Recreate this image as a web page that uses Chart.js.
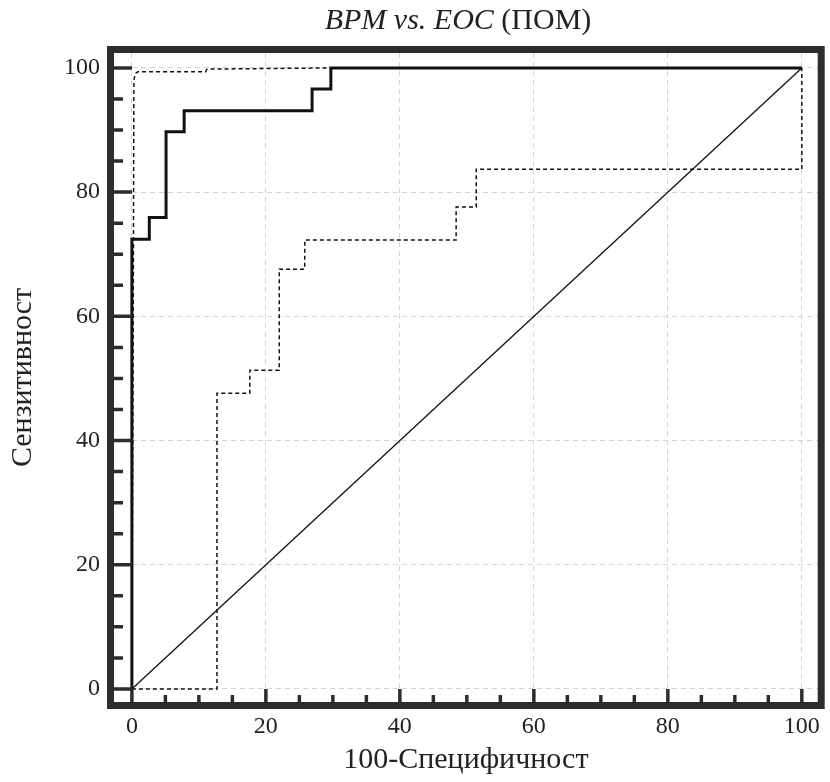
<!DOCTYPE html>
<html lang="bg">
<head>
    <meta charset="UTF-8">
    <title>BPM vs. EOC (ПОМ)</title>
    <script src="https://cdn.jsdelivr.net/npm/chart.js"></script>
    <style>
        body {
            margin: 0;
            background: #ffffff;
        }

        .wrap {
            position: relative;
            width: 830px;
            height: 782px;
        }

        .title {
            position: absolute;
            left: 97px;
            width: 722px;
            top: 2px;
            text-align: center;
            font-family: 'Liberation Serif', serif;
            font-size: 30px;
            color: #222;
        }

        canvas {
            position: absolute;
            left: 0;
            top: 0;
        }
    </style>
</head>
<body>

<div class="wrap">
    <canvas id="roc" width="830" height="782"></canvas>
    <div class="title"><i>BPM vs. EOC</i> (ПОМ)</div>
</div>

<script>
    // tick values
    const xTicks = [0, 20, 40, 60, 80, 100];
    const yTicks = [0, 20, 40, 60, 80, 100];
    const minorStep = 5;

    // ROC curve (100-specificity, sensitivity)
    const rocX = [0, 0, 2.6, 5.1, 7.8, 26.9, 29.7, 100];
    const rocY = [0, 72.4, 75.9, 89.7, 93.1, 96.6, 100, 100];

    // confidence bounds
    const upperX = [0, 0.2, 0.3, 0.5, 0.9, 11.0, 11.2, 29.7, 100];
    const upperY = [0, 60, 98.0, 99.1, 99.4, 99.4, 99.8, 100, 100];
    const lowerX = [0, 12.7, 17.6, 22.0, 25.8, 48.4, 51.4, 100];
    const lowerY = [0, 47.6, 51.3, 67.6, 72.3, 77.6, 83.7, 100];

    // reference diagonal
    const diagX = [0, 100];
    const diagY = [0, 100];

    Chart.defaults.font.family = 'Liberation Serif';
    Chart.defaults.color = '#222';

    // thick frame + inside tick marks
    const framePlugin = {
        id: 'frame',
        afterDatasetsDraw(chart) {
            const {ctx, chartArea: a, scales: {x, y}} = chart;
            ctx.save();
            ctx.strokeStyle = '#2d2d2d';
            ctx.lineWidth = 7;
            ctx.strokeRect(a.left - 3.5, a.top - 3.5, a.right - a.left + 7, a.bottom - a.top + 7);
            ctx.lineWidth = 3.5;
            ctx.beginPath();
            for (let v = 0; v <= 100; v += minorStep) {
                const px = x.getPixelForValue(v);
                ctx.moveTo(px, a.bottom);
                ctx.lineTo(px, a.bottom - (xTicks.includes(v) ? 13 : 7));
                const py = y.getPixelForValue(v);
                ctx.moveTo(a.left, py);
                ctx.lineTo(a.left + (yTicks.includes(v) ? 18 : 9), py);
            }
            ctx.stroke();
            ctx.restore();
        }
    };

    function series(xs, ys, opts) {
        return Object.assign({
            data: xs.map((v, i) => ({x: v, y: ys[i]})),
            borderColor: '#111',
            pointRadius: 0,
            fill: false,
            tension: 0
        }, opts);
    }

    const gridOpts = {color: '#d6d6d6', lineWidth: 1, drawTicks: false};
    const tickFont = {size: 24};
    const titleFont = {size: 30};

    new Chart(document.getElementById('roc'), {
        type: 'line',
        data: {
            datasets: [
                series(rocX, rocY, {label: 'ROC', borderWidth: 3, stepped: 'before'}),
                series(upperX, upperY, {label: 'upper', borderWidth: 1.5, borderDash: [4, 3]}),
                series(lowerX, lowerY, {label: 'lower', borderWidth: 1.5, borderDash: [4, 3], stepped: 'before'}),
                series(diagX, diagY, {label: 'diag', borderWidth: 1.3})
            ]
        },
        options: {
            responsive: false,
            animation: false,
            layout: {padding: {top: 53, right: 8, left: 0, bottom: 0}},
            plugins: {
                legend: {display: false},
                tooltip: {enabled: false}
            },
            scales: {
                x: {
                    type: 'linear',
                    min: -2.67,
                    max: 102.37,
                    afterBuildTicks: s => { s.ticks = xTicks.map(v => ({value: v})); },
                    afterFit: s => { s.height = 80; },
                    grid: gridOpts,
                    border: {display: false, dash: [5, 4]},
                    ticks: {padding: 10, font: tickFont, maxRotation: 0, autoSkip: false},
                    title: {display: true, text: '100-Специфичност', font: titleFont, padding: {top: 0, bottom: 4}}
                },
                y: {
                    type: 'linear',
                    min: -2.1,
                    max: 102.4,
                    afterBuildTicks: s => { s.ticks = yTicks.map(v => ({value: v})); },
                    afterFit: s => { s.width = 114; },
                    grid: gridOpts,
                    border: {display: false, dash: [5, 4]},
                    ticks: {padding: 14, font: tickFont, autoSkip: false},
                    title: {display: true, text: 'Сензитивност', font: titleFont, padding: {top: 5, bottom: 0}}
                }
            }
        },
        plugins: [framePlugin]
    });
</script>

</body>
</html>
